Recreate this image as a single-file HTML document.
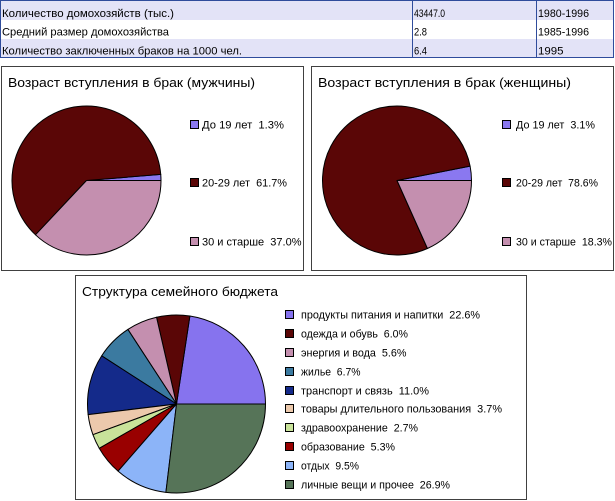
<!DOCTYPE html>
<html>
<head>
<meta charset="utf-8">
<style>
html,body{margin:0;padding:0;background:#fff;}
svg{display:block;}
text{font-family:"Liberation Sans","DejaVu Sans",sans-serif;fill:#000;white-space:pre;}
.t{font-size:11px;}
.h{font-size:13px;}
</style>
</head>
<body>
<svg width="615" height="501" viewBox="0 0 615 501" xmlns="http://www.w3.org/2000/svg">
<rect x="0" y="0" width="615" height="501" fill="#fff"/>

<!-- Table -->
<rect x="0" y="0" width="614" height="20" fill="#e3e3f7"/>
<rect x="0" y="20" width="614" height="19" fill="#ffffff"/>
<rect x="0" y="39" width="614" height="19" fill="#e3e3f7"/>
<rect x="0.5" y="0.5" width="613" height="57" fill="none" stroke="#2f4c9c" stroke-width="1"/>
<line x1="412.5" y1="0" x2="412.5" y2="58" stroke="#2f4c9c" stroke-width="1"/>
<line x1="536.5" y1="0" x2="536.5" y2="58" stroke="#2f4c9c" stroke-width="1"/>

<text class="t" x="2" y="17" textLength="172" lengthAdjust="spacingAndGlyphs">Количество домохозяйств (тыс.)</text>
<text class="t" x="2" y="35.5" textLength="167" lengthAdjust="spacingAndGlyphs">Средний размер домохозяйства</text>
<text class="t" x="2" y="54.5" textLength="240" lengthAdjust="spacingAndGlyphs">Количество заключенных браков на 1000 чел.</text>
<text class="t" x="414" y="17" textLength="31" lengthAdjust="spacingAndGlyphs">43447.0</text>
<text class="t" x="414" y="35.5" textLength="13" lengthAdjust="spacingAndGlyphs">2.8</text>
<text class="t" x="414" y="54.5" textLength="13" lengthAdjust="spacingAndGlyphs">6.4</text>
<text class="t" x="538" y="17" textLength="51" lengthAdjust="spacingAndGlyphs">1980-1996</text>
<text class="t" x="538" y="35.5" textLength="51" lengthAdjust="spacingAndGlyphs">1985-1996</text>
<text class="t" x="538" y="54.5" textLength="25.5" lengthAdjust="spacingAndGlyphs">1995</text>

<!-- Left panel (men) -->
<rect x="1.5" y="66.5" width="302" height="204" fill="#fff" stroke="#404040" stroke-width="1"/>
<text class="h" x="8" y="87" textLength="247" lengthAdjust="spacingAndGlyphs">Возраст вступления в брак (мужчины)</text>
<g stroke="#000" stroke-width="1" stroke-linejoin="round">
<path d="M86.5,180.5 L161,180.5 A74.5,74.5 0 0 0 160.75,174.42 Z" fill="#8a78f0"/>
<path d="M86.5,180.5 L160.75,174.42 A74.5,74.5 0 1 0 35.5,234.81 Z" fill="#5a0606"/>
<path d="M86.5,180.5 L35.5,234.81 A74.5,74.5 0 0 0 161,180.5 Z" fill="#c48faf"/>
</g>
<rect x="190.5" y="120.5" width="8" height="8" fill="#8a78f0" stroke="#000"/>
<rect x="190.5" y="178.5" width="8" height="8" fill="#5a0606" stroke="#000"/>
<rect x="190.5" y="237.5" width="8" height="8" fill="#c48faf" stroke="#000"/>
<text class="t" x="202" y="128.5" textLength="82" lengthAdjust="spacingAndGlyphs">До 19 лет  1.3%</text>
<text class="t" x="202" y="186.5" textLength="85" lengthAdjust="spacingAndGlyphs">20-29 лет  61.7%</text>
<text class="t" x="202" y="245.5" textLength="99.5" lengthAdjust="spacingAndGlyphs">30 и старше  37.0%</text>

<!-- Right panel (women) -->
<rect x="311.5" y="66.5" width="302" height="204" fill="#fff" stroke="#404040" stroke-width="1"/>
<text class="h" x="318" y="87" textLength="253" lengthAdjust="spacingAndGlyphs">Возраст вступления в брак (женщины)</text>
<g stroke="#000" stroke-width="1" stroke-linejoin="round">
<path d="M397,180.5 L471.5,180.5 A74.5,74.5 0 0 0 470.09,166.08 Z" fill="#8a78f0"/>
<path d="M397,180.5 L470.09,166.08 A74.5,74.5 0 1 0 427.45,248.49 Z" fill="#5a0606"/>
<path d="M397,180.5 L427.45,248.49 A74.5,74.5 0 0 0 471.5,180.5 Z" fill="#c48faf"/>
</g>
<rect x="502.5" y="120.5" width="8" height="8" fill="#8a78f0" stroke="#000"/>
<rect x="502.5" y="178.5" width="8" height="8" fill="#5a0606" stroke="#000"/>
<rect x="502.5" y="237.5" width="8" height="8" fill="#c48faf" stroke="#000"/>
<text class="t" x="516" y="128.5" textLength="79" lengthAdjust="spacingAndGlyphs">До 19 лет  3.1%</text>
<text class="t" x="516" y="186.5" textLength="82" lengthAdjust="spacingAndGlyphs">20-29 лет  78.6%</text>
<text class="t" x="516" y="245.5" textLength="96" lengthAdjust="spacingAndGlyphs">30 и старше  18.3%</text>

<!-- Bottom panel (budget) -->
<rect x="75.5" y="275.5" width="451" height="224" fill="#fff" stroke="#404040" stroke-width="1"/>
<text class="h" x="82" y="296" textLength="196" lengthAdjust="spacingAndGlyphs">Структура семейного бюджета</text>
<g stroke="#000" stroke-width="1" stroke-linejoin="round">
<path d="M176.5,404 L265.5,404 A89,89 0 0 0 189.87,316.01 Z" fill="#8673ee"/>
<path d="M176.5,404 L189.87,316.01 A89,89 0 0 0 156.54,317.27 Z" fill="#5a0606"/>
<path d="M176.5,404 L156.54,317.27 A89,89 0 0 0 127.87,329.46 Z" fill="#c48faf"/>
<path d="M176.5,404 L127.87,329.46 A89,89 0 0 0 101.65,355.85 Z" fill="#3b7aa0"/>
<path d="M176.5,404 L101.65,355.85 A89,89 0 0 0 88.13,414.60 Z" fill="#142a8a"/>
<path d="M176.5,404 L88.13,414.60 A89,89 0 0 0 92.95,434.67 Z" fill="#ecc9ac"/>
<path d="M176.5,404 L92.95,434.67 A89,89 0 0 0 99.32,448.32 Z" fill="#c9e39a"/>
<path d="M176.5,404 L99.32,448.32 A89,89 0 0 0 118.06,471.12 Z" fill="#990000"/>
<path d="M176.5,404 L118.06,471.12 A89,89 0 0 0 165.90,492.37 Z" fill="#8cb4f8"/>
<path d="M176.5,404 L165.90,492.37 A89,89 0 0 0 265.5,404 Z" fill="#567458"/>
</g>
<g stroke="#000" stroke-width="1">
<rect x="285.5" y="310.5" width="8" height="8" fill="#8673ee"/>
<rect x="285.5" y="329.5" width="8" height="8" fill="#5a0606"/>
<rect x="285.5" y="348.5" width="8" height="8" fill="#c48faf"/>
<rect x="285.5" y="367.5" width="8" height="8" fill="#3b7aa0"/>
<rect x="285.5" y="386.5" width="8" height="8" fill="#142a8a"/>
<rect x="285.5" y="404.5" width="8" height="8" fill="#ecc9ac"/>
<rect x="285.5" y="423.5" width="8" height="8" fill="#c9e39a"/>
<rect x="285.5" y="442.5" width="8" height="8" fill="#990000"/>
<rect x="285.5" y="461.5" width="8" height="8" fill="#8cb4f8"/>
<rect x="285.5" y="480.5" width="8" height="8" fill="#567458"/>
</g>
<text class="t" x="301" y="318.5" textLength="179" lengthAdjust="spacingAndGlyphs">продукты питания и напитки  22.6%</text>
<text class="t" x="301" y="337.5" textLength="107" lengthAdjust="spacingAndGlyphs">одежда и обувь  6.0%</text>
<text class="t" x="301" y="356.5" textLength="105.5" lengthAdjust="spacingAndGlyphs">энергия и вода  5.6%</text>
<text class="t" x="301" y="375.5" textLength="59.5" lengthAdjust="spacingAndGlyphs">жилье  6.7%</text>
<text class="t" x="301" y="394.5" textLength="128" lengthAdjust="spacingAndGlyphs">транспорт и связь  11.0%</text>
<text class="t" x="301" y="412.5" textLength="201" lengthAdjust="spacingAndGlyphs">товары длительного пользования  3.7%</text>
<text class="t" x="301" y="431.5" textLength="117" lengthAdjust="spacingAndGlyphs">здравоохранение  2.7%</text>
<text class="t" x="301" y="450.5" textLength="94" lengthAdjust="spacingAndGlyphs">образование  5.3%</text>
<text class="t" x="301" y="469.5" textLength="58" lengthAdjust="spacingAndGlyphs">отдых  9.5%</text>
<text class="t" x="301" y="488.5" textLength="149" lengthAdjust="spacingAndGlyphs">личные вещи и прочее  26.9%</text>
</svg>
</body>
</html>
